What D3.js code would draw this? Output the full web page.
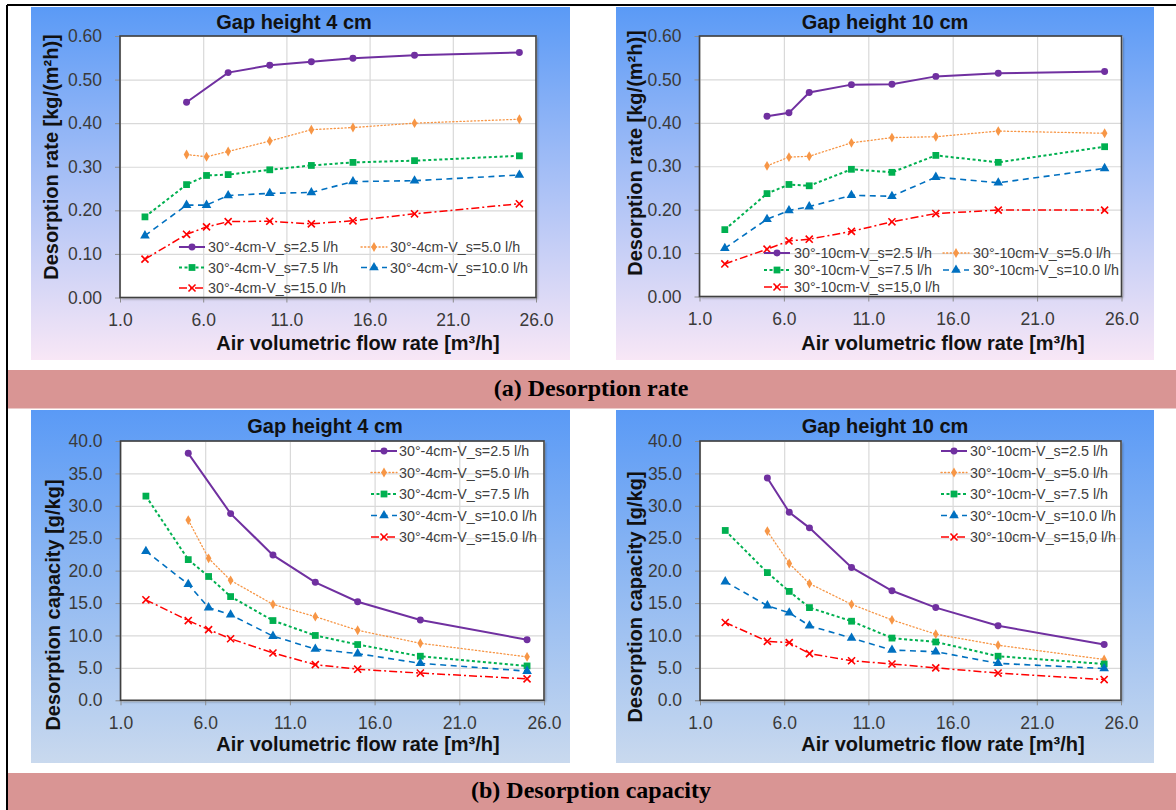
<!DOCTYPE html>
<html>
<head>
<meta charset="utf-8">
<script src="https://cdn.jsdelivr.net/npm/d3@7"></script>
<style>
  body { margin: 0; background: #fff; }
  svg text { font-family: Arial, "Liberation Sans", sans-serif; }
  .axis .tick text { fill: #3a3a3a; font-size: 17.5px; }
  .axis .tick line { stroke: #8c8c8c; }
  .axis path { display: none; }
  .gridlines line { stroke: #d9d9d9; stroke-width: 1.2; }
  .gridlines path { display: none; }
  .title, .axis-title { font-weight: bold; font-size: 20px; fill: #111; }
  .legend text { font-size: 14.3px; fill: #404040; }
  .caption { font-family: "Liberation Serif", "Times New Roman", serif !important; font-weight: bold; font-size: 24px; fill: #000; }
</style>
</head>
<body>
<svg id="figure" width="1176" height="810"></svg>
<script>
    // ---- Data ----
    // Air volumetric flow rate [m3/h] used in each gap height
    const flowRates4 = [2.5, 5.0, 6.2, 7.5, 10.0, 12.5, 15.0, 18.7, 25.0];
    const flowRates10 = [2.5, 5.0, 6.3, 7.5, 10.0, 12.4, 15.0, 18.7, 25.0];

    // Solution flow V_s [l/h]
    const solutionFlows = ["2.5", "5.0", "7.5", "10.0", "15.0"];
    const legend4 = ["30°-4cm-V_s=2.5 l/h", "30°-4cm-V_s=5.0 l/h", "30°-4cm-V_s=7.5 l/h", "30°-4cm-V_s=10.0 l/h", "30°-4cm-V_s=15.0 l/h"];
    const legend10 = ["30°-10cm-V_s=2.5 l/h", "30°-10cm-V_s=5.0 l/h", "30°-10cm-V_s=7.5 l/h", "30°-10cm-V_s=10.0 l/h", "30°-10cm-V_s=15,0 l/h"];

    // (a) desorption rate [kg/(m2h)], gap 4 cm  (null = no point)
    const rate4_25  = [null, 0.448, null, 0.516, 0.533, 0.541, 0.549, 0.556, 0.562];
    const rate4_50  = [null, 0.328, 0.323, 0.335, 0.359, 0.385, 0.390, 0.400, 0.409];
    const rate4_75  = [0.185, 0.259, 0.280, 0.282, 0.293, 0.303, 0.310, 0.314, 0.325];
    const rate4_100 = [0.142, 0.212, 0.212, 0.234, 0.239, 0.241, 0.266, 0.268, 0.281];
    const rate4_150 = [0.088, 0.145, 0.162, 0.174, 0.175, 0.169, 0.176, 0.192, 0.215];

    // (a) desorption rate, gap 10 cm
    const rate10_25  = [null, 0.415, 0.423, 0.470, 0.488, 0.489, 0.507, 0.514, 0.518];
    const rate10_50  = [null, 0.301, 0.321, 0.323, 0.354, 0.366, 0.368, 0.381, 0.376];
    const rate10_75  = [0.154, 0.237, 0.258, 0.255, 0.293, 0.286, 0.325, 0.309, 0.345];
    const rate10_100 = [0.111, 0.178, 0.198, 0.207, 0.233, 0.231, 0.275, 0.262, 0.295];
    const rate10_150 = [0.075, 0.109, 0.128, 0.132, 0.150, 0.172, 0.191, 0.199, 0.199];

    // (b) desorption capacity [g/kg], gap 4 cm
    const cap4_25  = [null, 38.1, null, 28.8, 22.4, 18.2, 15.2, 12.4, 9.35];
    const cap4_50  = [null, 27.8, 21.9, 18.5, 14.8, 12.9, 10.8, 8.8, 6.7];
    const cap4_75  = [31.5, 21.7, 19.1, 16.0, 12.3, 10.0, 8.6, 6.8, 5.3];
    const cap4_100 = [23.0, 17.9, 14.3, 13.2, 9.9, 7.9, 7.2, 5.7, 4.5];
    const cap4_150 = [15.5, 12.3, 10.9, 9.5, 7.3, 5.5, 4.8, 4.2, 3.3];

    // (b) desorption capacity, gap 10 cm
    const cap10_25  = [null, 34.3, 29.0, 26.6, 20.5, 16.9, 14.3, 11.5, 8.6];
    const cap10_50  = [null, 26.1, 21.1, 18.0, 14.8, 12.4, 10.2, 8.5, 6.3];
    const cap10_75  = [26.2, 19.7, 16.8, 14.3, 12.2, 9.6, 9.0, 6.8, 5.6];
    const cap10_100 = [18.3, 14.6, 13.5, 11.5, 9.6, 7.75, 7.5, 5.7, 4.9];
    const cap10_150 = [12.0, 9.1, 8.9, 7.2, 6.1, 5.6, 5.0, 4.2, 3.2];

    // tick values
    const xTicks = [1, 6, 11, 16, 21, 26];
    const rateTicks = [0, 0.1, 0.2, 0.3, 0.4, 0.5, 0.6];
    const capTicks = [0, 5, 10, 15, 20, 25, 30, 35, 40];

    // one style per solution flow (same order as solutionFlows)
    const seriesStyles = [
      { color: "#7030a0", dash: null,      width: 2,   symbol: d3.symbolCircle,   size: 38 },
      { color: "#f79646", dash: "1.2,2.4", width: 1.3, symbol: d3.symbolDiamond,  size: 28, round: true },
      { color: "#00b050", dash: "3,2.5",   width: 2,   symbol: d3.symbolSquare,   size: 46 },
      { color: "#0070c0", dash: "6,4.5",   width: 1.6, symbol: d3.symbolTriangle, size: 40 },
      { color: "#ff0000", dash: "8,3,2,3", width: 1.5, symbol: d3.symbolX,        size: 34, stroke: true }
    ];

    // ---- Layout of the four panels ----
    const panels = [
      { bg: [31, 7, 570, 360], grad: "bgRate", plot: [120, 36, 536, 297.5],
        title: "Gap height 4 cm", titleX: 294, titleY: 28.5,
        yLabel: "Desorption rate [kg/(m²h)]", yLabelX: 51, yLabelY: 157,
        xLabelX: 358, xLabelY: 350,
        flows: flowRates4, series: [rate4_25, rate4_50, rate4_75, rate4_100, rate4_150],
        yDomain: [0, 0.6], yTicks: rateTicks, yFmt: ".2f",
        legend: legend4, legendCols: [179, 361], legendRows: [247, 267.5, 288], gridCols: 2, textGap: 29 },
      { bg: [616, 7, 1154, 360], grad: "bgRate", plot: [699.5, 36, 1121.5, 296.5],
        title: "Gap height 10 cm", titleX: 885, titleY: 28.5,
        yLabel: "Desorption rate [kg/(m²h)]", yLabelX: 635, yLabelY: 153,
        xLabelX: 943, xLabelY: 350,
        flows: flowRates10, series: [rate10_25, rate10_50, rate10_75, rate10_100, rate10_150],
        yDomain: [0, 0.6], yTicks: rateTicks, yFmt: ".2f",
        legend: legend10, legendCols: [764, 943], legendRows: [253, 270, 287], gridCols: 2, textGap: 30 },
      { bg: [31, 410, 570, 763], grad: "bgCap", plot: [120.5, 441, 544, 700.3],
        title: "Gap height 4 cm", titleX: 325, titleY: 433,
        yLabel: "Desorption capacity [g/kg]", yLabelX: 53, yLabelY: 605,
        xLabelX: 358, xLabelY: 751,
        flows: flowRates4, series: [cap4_25, cap4_50, cap4_75, cap4_100, cap4_150],
        yDomain: [0, 40], yTicks: capTicks, yFmt: ".1f",
        legend: legend4, legendCols: [371], legendRows: [451, 472.5, 494, 515.5, 537], gridCols: 1, textGap: 28 },
      { bg: [616, 410, 1154, 763], grad: "bgCap", plot: [700, 441, 1121, 700.3],
        title: "Gap height 10 cm", titleX: 885, titleY: 433,
        yLabel: "Desorption capacity [g/kg]", yLabelX: 635, yLabelY: 597,
        xLabelX: 943, xLabelY: 751,
        flows: flowRates10, series: [cap10_25, cap10_50, cap10_75, cap10_100, cap10_150],
        yDomain: [0, 40], yTicks: capTicks, yFmt: ".1f",
        legend: legend10, legendCols: [941], legendRows: [451, 472.5, 494, 515.5, 537], gridCols: 1, textGap: 29 }
    ];

    let svg = d3.select("svg#figure");
    let defs = svg.append("defs");

    // background gradients (Excel style chart area fill)
    function addGradient(id, top, bottom) {
      let g = defs.append("linearGradient").attr("id", id)
        .attr("x1", 0).attr("y1", 0).attr("x2", 0).attr("y2", 1);
      g.append("stop").attr("offset", "0%").attr("stop-color", top);
      g.append("stop").attr("offset", "100%").attr("stop-color", bottom);
    }
    addGradient("bgRate", "#5a9af6", "#f8e7f6");
    addGradient("bgCap", "#5a9af6", "#c9d9ee");

    let shadow = defs.append("filter").attr("id", "plotShadow")
      .attr("x", "-5%").attr("y", "-5%").attr("width", "110%").attr("height", "110%");
    shadow.append("feDropShadow").attr("dx", 1.5).attr("dy", 1.5)
      .attr("stdDeviation", 1).attr("flood-color", "#000").attr("flood-opacity", 0.4);

    // outer frame lines
    svg.append("line").attr("x1", 7).attr("x2", 1176).attr("y1", 5).attr("y2", 5)
      .attr("stroke", "#000").attr("stroke-width", 2);
    svg.append("line").attr("x1", 7).attr("x2", 7).attr("y1", 5).attr("y2", 810)
      .attr("stroke", "#000").attr("stroke-width", 2);

    // caption bands
    const captions = [
      { text: "(a) Desorption rate", y0: 370, y1: 408.5, base: 396 },
      { text: "(b) Desorption capacity", y0: 773, y1: 810, base: 798 }
    ];
    captions.forEach(c => {
      svg.append("rect").attr("x", 8).attr("y", c.y0).attr("width", 1168).attr("height", c.y1 - c.y0)
        .attr("fill", "#d99594");
      svg.append("text").attr("class", "caption").attr("x", 591).attr("y", c.base)
        .attr("text-anchor", "middle").text(c.text);
    });

    panels.forEach(p => {
      let [bx0, by0, bx1, by1] = p.bg;
      let [px0, py0, px1, py1] = p.plot;

      svg.append("rect").attr("x", bx0).attr("y", by0)
        .attr("width", bx1 - bx0).attr("height", by1 - by0)
        .attr("fill", "url(#" + p.grad + ")");

      let x = d3.scaleLinear().domain([1, 26]).range([px0, px1]);
      let y = d3.scaleLinear().domain(p.yDomain).range([py1, py0]);

      // plot area
      svg.append("rect").attr("x", px0).attr("y", py0)
        .attr("width", px1 - px0).attr("height", py1 - py0)
        .attr("fill", "#fff").attr("filter", "url(#plotShadow)");

      // gridlines
      svg.append("g").attr("class", "gridlines")
        .attr("transform", "translate(0," + py1 + ")")
        .call(d3.axisBottom(x).tickValues(xTicks).tickSize(-(py1 - py0)).tickFormat(""));
      svg.append("g").attr("class", "gridlines")
        .attr("transform", "translate(" + px0 + ",0)")
        .call(d3.axisLeft(y).tickValues(p.yTicks).tickSize(-(px1 - px0)).tickFormat(""));

      // axes with labels
      svg.append("g").attr("class", "axis")
        .attr("transform", "translate(0," + py1 + ")")
        .call(d3.axisBottom(x).tickValues(xTicks).tickSize(5).tickPadding(11).tickFormat(d3.format(".1f")));
      svg.append("g").attr("class", "axis")
        .attr("transform", "translate(" + px0 + ",0)")
        .call(d3.axisLeft(y).tickValues(p.yTicks).tickSize(5).tickPadding(13).tickFormat(d3.format(p.yFmt)));

      // plot border
      svg.append("rect").attr("x", px0).attr("y", py0)
        .attr("width", px1 - px0).attr("height", py1 - py0)
        .attr("fill", "none").attr("stroke", "#404040").attr("stroke-width", 1.6);

      // series
      let line = d3.line().x(d => x(d.q)).y(d => y(d.v));
      p.series.forEach((values, i) => {
        let st = seriesStyles[i];
        let pts = values.map((v, j) => ({ q: p.flows[j], v: v })).filter(d => d.v !== null);
        svg.append("path").datum(pts)
          .attr("d", line)
          .attr("fill", "none")
          .attr("stroke", st.color)
          .attr("stroke-width", st.width)
          .attr("stroke-linecap", st.round ? "round" : "butt")
          .attr("stroke-dasharray", st.dash);
        let sym = d3.symbol().type(st.symbol).size(st.size);
        svg.append("g").selectAll("path").data(pts).join("path")
          .attr("transform", d => "translate(" + x(d.q) + "," + y(d.v) + ")")
          .attr("d", sym)
          .attr("fill", st.stroke ? "none" : st.color)
          .attr("stroke", st.stroke ? st.color : "none")
          .attr("stroke-width", 1.6);
      });

      // legend
      let leg = svg.append("g").attr("class", "legend");
      p.legend.forEach((label, i) => {
        let st = seriesStyles[i];
        let lx = p.legendCols[i % p.gridCols];
        let ly = p.legendRows[Math.floor(i / p.gridCols)];
        leg.append("line").attr("x1", lx).attr("x2", lx + 26).attr("y1", ly).attr("y2", ly)
          .attr("stroke", st.color).attr("stroke-width", st.width)
          .attr("stroke-dasharray", st.dash)
          .attr("stroke-linecap", st.round ? "round" : "butt");
        leg.append("path")
          .attr("transform", "translate(" + (lx + 13) + "," + ly + ")")
          .attr("d", d3.symbol().type(st.symbol).size(st.size)())
          .attr("fill", st.stroke ? "none" : st.color)
          .attr("stroke", st.stroke ? st.color : "none")
          .attr("stroke-width", 1.6);
        leg.append("text").attr("x", lx + p.textGap).attr("y", ly).attr("dy", "0.35em").text(label);
      });

      // titles
      svg.append("text").attr("class", "title").attr("x", p.titleX).attr("y", p.titleY)
        .attr("text-anchor", "middle").text(p.title);
      svg.append("text").attr("class", "axis-title").attr("x", p.xLabelX).attr("y", p.xLabelY)
        .attr("text-anchor", "middle").text("Air volumetric flow rate [m³/h]");
      svg.append("text").attr("class", "axis-title")
        .attr("transform", "translate(" + p.yLabelX + "," + p.yLabelY + ") rotate(-90)")
        .attr("text-anchor", "middle").attr("dy", "0.35em").text(p.yLabel);
    });
</script>
</body>
</html>
